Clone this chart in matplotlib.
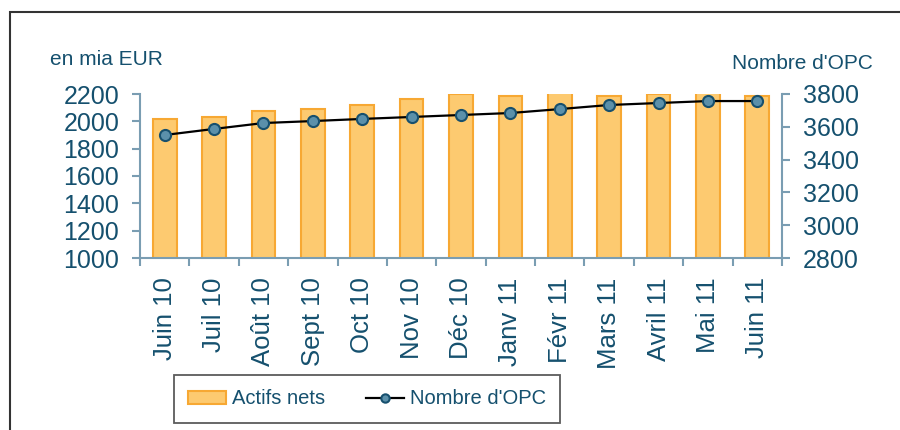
import numpy as np
import matplotlib
matplotlib.use("Agg")
import matplotlib.pyplot as plt
from matplotlib.patches import Rectangle
from matplotlib.ticker import FixedLocator, MultipleLocator

plt.rcParams['font.family'] = ['Liberation Sans', 'DejaVu Sans']

# data
months = ["Juin 10", "Juil 10", "Août 10", "Sept 10", "Oct 10", "Nov 10", "Déc 10",
          "Janv 11", "Févr 11", "Mars 11", "Avril 11", "Mai 11", "Juin 11"]
actifs_nets = [2015, 2029, 2073, 2088, 2117, 2161, 2202, 2187, 2219, 2187, 2202, 2219, 2187]
nombre_opc = [3550, 3587, 3623, 3635, 3648, 3660, 3672, 3684, 3708, 3733, 3745, 3757, 3757]

txt_color = "#15506e"
axis_color = "#7a9db2"
bar_fill = "#fdca70"
bar_edge = "#f7a833"
mk_fill = "#5b90aa"
mk_edge = "#17506e"

fig = plt.figure(figsize=(9, 4.3), dpi=100)
ax = fig.add_axes([140 / 900, 1 - 258 / 430, 642 / 900, 164 / 430])
ax2 = ax.twinx()

x = np.arange(len(months))
ax.bar(x, actifs_nets, width=0.48, color=bar_fill, edgecolor=bar_edge, linewidth=1.5,
       label="Actifs nets", zorder=2)
ax2.plot(x, nombre_opc, color="black", linewidth=1.6, marker="o", markersize=8,
         markerfacecolor=mk_fill, markeredgecolor=mk_edge, markeredgewidth=1.5,
         label="Nombre d'OPC", zorder=3)

ax.set_xlim(-0.5, len(months) - 0.5)
ax.set_ylim(1000, 2200)
ax2.set_ylim(2800, 3800)
ax.yaxis.set_major_locator(MultipleLocator(200))
ax2.yaxis.set_major_locator(MultipleLocator(200))

ax.set_xticks(x)
ax.set_xticklabels(months, rotation=90, va="top", ha="center")
ax.xaxis.set_minor_locator(FixedLocator(np.arange(-0.5, len(months), 1.0)))

for a in (ax, ax2):
    for s in a.spines.values():
        s.set_visible(False)
    a.patch.set_visible(False)
ax.spines["left"].set_visible(True)
ax.spines["bottom"].set_visible(True)
ax2.spines["right"].set_visible(True)
for s in (ax.spines["left"], ax.spines["bottom"], ax2.spines["right"]):
    s.set_color(axis_color)
    s.set_linewidth(1.5)

ax.tick_params(axis="x", which="major", length=0, pad=14, labelsize=18.5, labelcolor=txt_color)
ax.tick_params(axis="x", which="minor", length=6, width=1.5, color=axis_color, direction="out")
ax.tick_params(axis="y", length=6, width=1.5, color=axis_color, pad=9,
               labelsize=18, labelcolor=txt_color)
ax2.tick_params(axis="y", length=6, width=1.5, color=axis_color, pad=9,
                labelsize=18, labelcolor=txt_color)

fig.text(50 / 900, 1 - 65 / 430, "en mia EUR", fontsize=15, color=txt_color,
         ha="left", va="baseline")
fig.text(873 / 900, 1 - 69 / 430, "Nombre d'OPC", fontsize=15, color=txt_color,
         ha="right", va="baseline")

h1, l1 = ax.get_legend_handles_labels()
h2, l2 = ax2.get_legend_handles_labels()
leg = fig.legend(h1 + h2, l1 + l2, loc="center", ncol=2,
                 bbox_to_anchor=(367 / 900, 1 - 399 / 430), fontsize=14.5,
                 frameon=True, fancybox=False, handlelength=1.9, handleheight=0.6,
                 handletextpad=0.3, columnspacing=2.0, borderpad=0.7, markerscale=0.75)
leg.get_frame().set_edgecolor("#333333")
leg.get_frame().set_linewidth(1.3)
for t in leg.get_texts():
    t.set_color(txt_color)

# outer frame, cut off on the right and bottom
fig.patches.append(Rectangle((10 / 900, -0.2), 1.2, 1.2 - 12 / 430,
                             transform=fig.transFigure, fill=False,
                             edgecolor="#333333", linewidth=1.5))

fig.savefig("out.png", dpi=100)
